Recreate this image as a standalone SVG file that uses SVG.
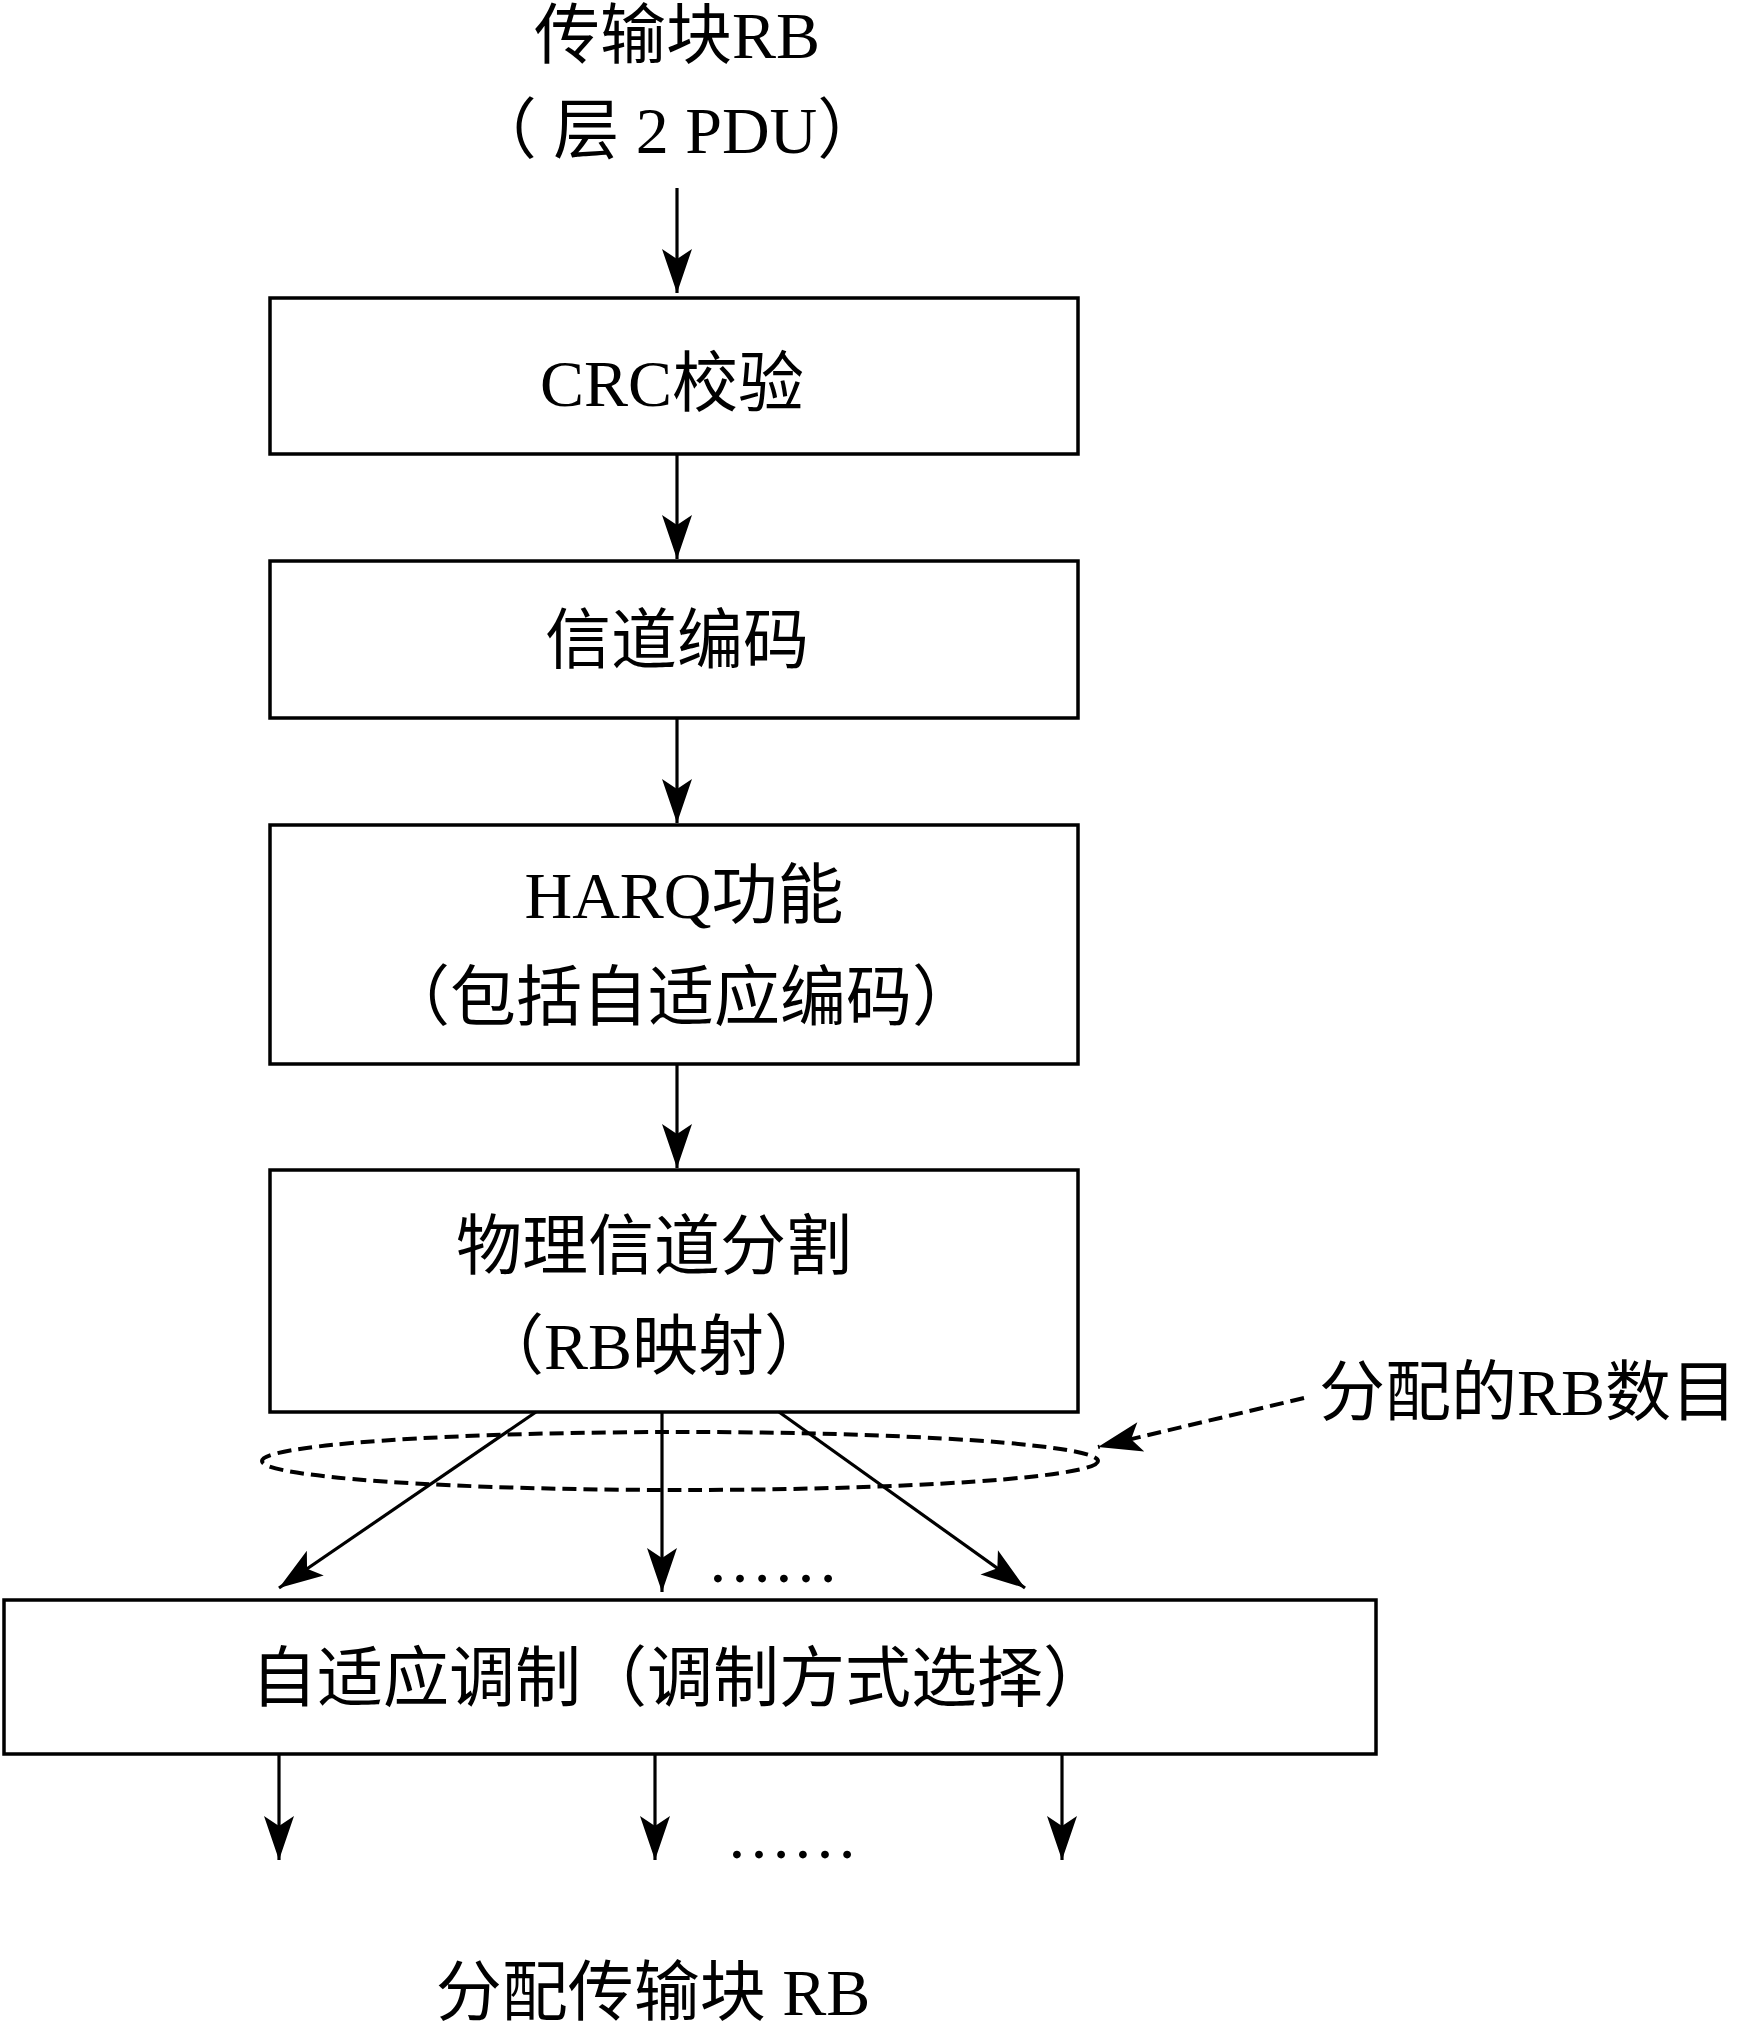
<svg xmlns="http://www.w3.org/2000/svg" width="1748" height="2035" viewBox="0 0 1748 2035">
<style>
.box{fill:none;stroke:#000;stroke-width:3.5}
.t{font-family:"Liberation Serif","Noto Sans CJK SC",serif;font-size:66px;fill:#000;text-anchor:middle}
.ln{stroke:#000;stroke-width:3.2;fill:none;marker-end:url(#ah)}
.dash{stroke:#000;stroke-width:4;fill:none;stroke-dasharray:14 7}
</style>
<defs>
<marker id="ah" markerUnits="userSpaceOnUse" markerWidth="50" markerHeight="40" viewBox="-46 -18 50 36" refX="0" refY="0" orient="auto">
<path d="M0,0 L-44,-15 L-34,0 L-44,15 z" fill="#000"/>
</marker>
</defs>
<rect width="1748" height="2035" fill="#fff"/>
<g id="title">
<text class="t" x="677" y="58">传输块RB</text>
<text class="t" x="677" y="153">（ 层 2 PDU）</text>
</g>
<g id="crc">
<rect class="box" x="270" y="298" width="808" height="156"/>
<text class="t" x="672" y="406">CRC校验</text>
</g>
<g id="channel-coding">
<rect class="box" x="270" y="561" width="808" height="157"/>
<text class="t" x="677" y="663">信道编码</text>
</g>
<g id="harq">
<rect class="box" x="270" y="825" width="808" height="239"/>
<text class="t" x="684" y="918">HARQ功能</text>
<text class="t" x="681" y="1020">（包括自适应编码）</text>
</g>
<g id="segmentation">
<rect class="box" x="270" y="1170" width="808" height="242"/>
<text class="t" x="654" y="1269">物理信道分割</text>
<text class="t" x="654" y="1369">（RB映射）</text>
</g>
<g id="rb-count">
<ellipse class="dash" cx="680" cy="1461" rx="418" ry="29"/>
<text class="t" x="1528" y="1415">分配的RB数目</text>
</g>
<g id="adaptive-mod">
<rect class="box" x="4" y="1600" width="1372" height="154"/>
<text class="t" x="680" y="1701">自适应调制（调制方式选择）</text>
</g>
<g id="output">
<text class="t" x="653" y="2015">分配传输块 RB</text>
</g>
<g id="connectors">
<line class="ln" x1="677" y1="188" x2="677" y2="293"/>
<line class="ln" x1="677" y1="454" x2="677" y2="559"/>
<line class="ln" x1="677" y1="718" x2="677" y2="823"/>
<line class="ln" x1="677" y1="1064" x2="677" y2="1168"/>
<line class="ln" x1="536" y1="1412" x2="279" y2="1588"/>
<line class="ln" x1="662" y1="1412" x2="662" y2="1592"/>
<line class="ln" x1="779" y1="1412" x2="1025" y2="1588"/>
<line class="ln" x1="279" y1="1754" x2="279" y2="1860"/>
<line class="ln" x1="655" y1="1754" x2="655" y2="1860"/>
<line class="ln" x1="1062" y1="1754" x2="1062" y2="1860"/>
<line class="dash" x1="1304" y1="1398" x2="1098" y2="1447" style="marker-end:url(#ah)"/>
</g>
<g id="dots">
<text class="t" x="773" y="1582">……</text>
<text class="t" x="792" y="1858">……</text>
</g>
</svg>
